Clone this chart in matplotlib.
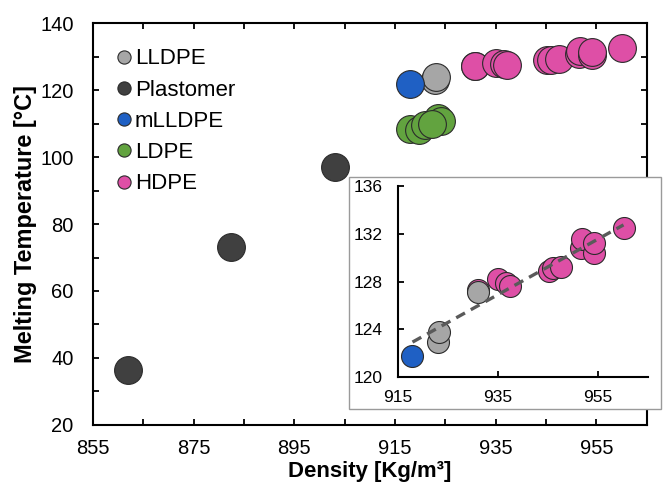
import numpy as np
import matplotlib
matplotlib.use("Agg")
import matplotlib.pyplot as plt
from matplotlib.patches import Rectangle

plt.rcParams["font.family"] = ["Liberation Sans", "DejaVu Sans"]

# --- data ---
lldpe_d = [923.0, 923.2, 930.9]
lldpe_t = [122.9, 123.8, 127.1]

plast_d = [862.0, 882.4, 903.0]
plast_t = [36.3, 73.0, 97.1]

mlldpe_d = [917.9]
mlldpe_t = [121.8]

ldpe_d = [918.0, 919.8, 921.0, 923.6, 924.1, 922.4]
ldpe_t = [108.5, 108.1, 109.5, 111.6, 110.7, 110.0]

hdpe_d = [930.9, 935.0, 936.6, 937.3, 945.1, 946.0, 947.6, 951.6, 951.8, 954.1, 954.2, 960.1]
hdpe_t = [127.3, 128.2, 127.9, 127.6, 128.9, 129.1, 129.2, 130.8, 131.6, 130.4, 131.2, 132.5]

COLORS = {
    "LLDPE": "#a6a6a6",
    "Plastomer": "#404040",
    "mLLDPE": "#1f60c4",
    "LDPE": "#62a33f",
    "HDPE": "#de4fa6",
}
EDGE = "#2b2b2b"

fig = plt.figure(figsize=(6.63, 4.94), dpi=100)
ax = fig.add_axes([0.1403, 0.1397, 0.8351, 0.8137])

series = [
    ("LLDPE", lldpe_d, lldpe_t),
    ("Plastomer", plast_d, plast_t),
    ("mLLDPE", mlldpe_d, mlldpe_t),
    ("LDPE", ldpe_d, ldpe_t),
    ("HDPE", hdpe_d, hdpe_t),
]
for name, d, t in series:
    ax.scatter(d, t, s=400, c=COLORS[name], edgecolors=EDGE, linewidths=0.8, zorder=3)

# legend handles (small markers)
handles = [plt.Line2D([], [], ls="none", marker="o", ms=9.5, mfc=COLORS[n], mec=EDGE, mew=0.8)
           for n, _, _ in series]
ax.legend(handles, [n for n, _, _ in series], loc="upper left", bbox_to_anchor=(0.017, 0.97),
          frameon=False, fontsize=16, handlelength=0.7, handletextpad=0.15,
          labelspacing=0.46, borderaxespad=0.2)

ax.set_xlim(855, 965)
ax.set_ylim(20, 140)
xt = np.arange(855, 966, 10)
ax.set_xticks(xt)
ax.set_xticklabels([str(v) if (v - 855) % 20 == 0 else "" for v in xt])
yt = np.arange(20, 141, 10)
ax.set_yticks(yt)
ax.set_yticklabels([str(v) if v % 20 == 0 else "" for v in yt])
ax.tick_params(direction="in", length=4, width=1.3, top=True, right=True, labelsize=14.5)
ax.tick_params(axis="x", pad=10)
ax.tick_params(axis="y", pad=14)
for sp in ax.spines.values():
    sp.set_linewidth(1.5)
ax.set_xlabel("Density [Kg/m³]", fontsize=15.9, fontweight="bold", labelpad=2)
ax.set_ylabel("Melting Temperature [°C]", fontsize=16.9, fontweight="bold", labelpad=2)

# --- inset frame ---
fig.patches.append(Rectangle((0.527, 0.172), 0.47, 0.47, transform=fig.transFigure,
                             facecolor="white", edgecolor="#9a9a9a", linewidth=1.0, zorder=5))

ins = fig.add_axes([0.6003, 0.2368, 0.3771, 0.3867], zorder=6)
ins.patch.set_alpha(0)
ins.scatter(hdpe_d, hdpe_t, s=250, c=COLORS["HDPE"], edgecolors=EDGE, linewidths=0.8, zorder=3)
ins.scatter(lldpe_d, lldpe_t, s=250, c=COLORS["LLDPE"], edgecolors=EDGE, linewidths=0.8, zorder=3)
ins.scatter(mlldpe_d, mlldpe_t, s=250, c=COLORS["mLLDPE"], edgecolors=EDGE, linewidths=0.8, zorder=3)

# linear trend through LLDPE, mLLDPE and HDPE
fit_d = np.array(lldpe_d + mlldpe_d + hdpe_d)
fit_t = np.array(lldpe_t + mlldpe_t + hdpe_t)
k, b = np.polyfit(fit_d, fit_t, 1)
xs = np.array([fit_d.min(), fit_d.max()])
ins.plot(xs, k * xs + b, ls=(0, (3, 2)), color="#5a5a5a", lw=2.4, zorder=4)

ins.set_xlim(915, 965)
ins.set_ylim(120, 136)
ins.set_xticks([915, 935, 955])
ins.set_yticks([120, 124, 128, 132, 136])
ins.spines["top"].set_visible(False)
ins.spines["right"].set_visible(False)
for sp in ("left", "bottom"):
    ins.spines[sp].set_linewidth(1.5)
ins.tick_params(direction="in", length=4, width=1.3, labelsize=12.5)
ins.tick_params(axis="x", pad=9)
ins.tick_params(axis="y", pad=11)

fig.savefig("out.png", dpi=100)
